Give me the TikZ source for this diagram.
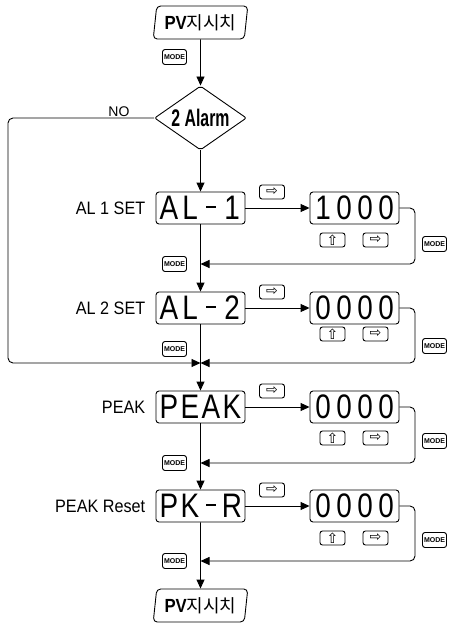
\documentclass[tikz,border=0pt]{standalone}
\usepackage{fontspec}
\setmainfont{Liberation Sans}
\newfontfamily\krfont{Noto Sans CJK KR}
\newfontfamily\symfont{DejaVu Sans}
\usetikzlibrary{shapes.geometric,arrows.meta}

\newcommand\segdash{\rule[11.5pt]{11pt}{2pt}}
\newcommand\segch[1]{\makebox[21pt]{\scalebox{0.82}[1]{#1}}}
\newcommand\seg[4]{{\fontsize{34}{34}\selectfont\segch{#1}\segch{#2}\segch{#3}\segch{#4}}}
\newcommand\pvlabel{{\bfseries\fontsize{19}{19}\selectfont\scalebox{0.88}[1]{PV}}{\krfont\fontsize{18}{18}\selectfont 지시치}}

\begin{document}
\begin{tikzpicture}[x=1pt,y=-1pt,line width=0.9pt,
flow/.style={-{Triangle[length=9pt,width=8pt]}},
disp/.style={draw,rounded corners=3pt,minimum width=89pt,minimum height=32pt,inner sep=0pt},
key/.style={draw,rounded corners=2.5pt,minimum width=25pt,minimum height=14pt,inner sep=0pt,font=\symfont\fontsize{14}{14}\selectfont},
modekey/.style={key,minimum width=24pt,minimum height=15pt,font=\bfseries\fontsize{7}{7}\selectfont},
lab/.style={anchor=east,font=\fontsize{18}{18}\selectfont},
pvbox/.style={trapezium,trapezium left angle=80,trapezium right angle=100,trapezium stretches=true,draw,rounded corners=4pt,minimum width=95pt,minimum height=33pt,inner sep=0pt}]
\useasboundingbox (0,0) rectangle (450,623);
\node[pvbox] (pvt) at (200.5,22.5) {\pvlabel};
\node[modekey] (mtop) at (174.5,57) {MODE};
\node[diamond,draw,aspect=1.44,minimum width=92pt,minimum height=64pt,inner sep=0pt,rounded corners=2pt] (alarm) at (200.5,118) {\bfseries\fontsize{24}{24}\selectfont\scalebox{0.66}[1]{2 Alarm}};
\foreach \n/\yd/\lab/\txt/\val/\yb/\ym/\yl/\yr in {1/208/AL 1 SET/AL\segdash1/1000/240/244/264/264,
  2/308/AL 2 SET/AL\segdash2/0000/334/346/349/363,
  3/407/PEAK/PEAK/0000/438/441/463/463,
  4/506/PEAK Reset/PK\segdash R/0000/538/540/561/561}{
  \node[disp] (d\n) at (200.5,\yd) {\expandafter\seg\txt};
  \node[lab] (l\n) at (149,\yd) {\scalebox{0.9}[1]{\lab}};
  \node[key] (a\n) at (272,{\yd-16}) {⇨};
  \node[disp] (v\n) at (354.5,\yd) {\expandafter\seg\val};
  \node[key] (u\n) at (332.5,\yb) {⇧};
  \node[key] (r\n) at (375.5,\yb) {⇨};
  \node[modekey] (rm\n) at (434.5,\ym) {MODE};
  \node[modekey] (lm\n) at (174.5,\yl) {MODE};
  \coordinate (m\n) at (200.5,\yr);
  \draw[flow] (d\n) -- (v\n);
  \draw[flow,rounded corners=5pt] (v\n.east) -- (415,\yd) |- (m\n);
}
\node[pvbox] (pvb) at (200.5,605.5) {\pvlabel};
\draw[flow] (pvt) -- (alarm);
\draw[flow] (alarm) -- (d1);
\foreach \a/\b in {d1/d2,d2/d3,d3/d4,d4/pvb} \draw[flow] (\a) -- (\b);
% NO branch joins below AL-2
\draw[flow,rounded corners=5pt] (alarm.west) -- node[pos=0.24,above,inner sep=1pt,font=\fontsize{14}{14}\selectfont] (nolab) {NO} (8,118) |- (m2);
\end{tikzpicture}
\end{document}
